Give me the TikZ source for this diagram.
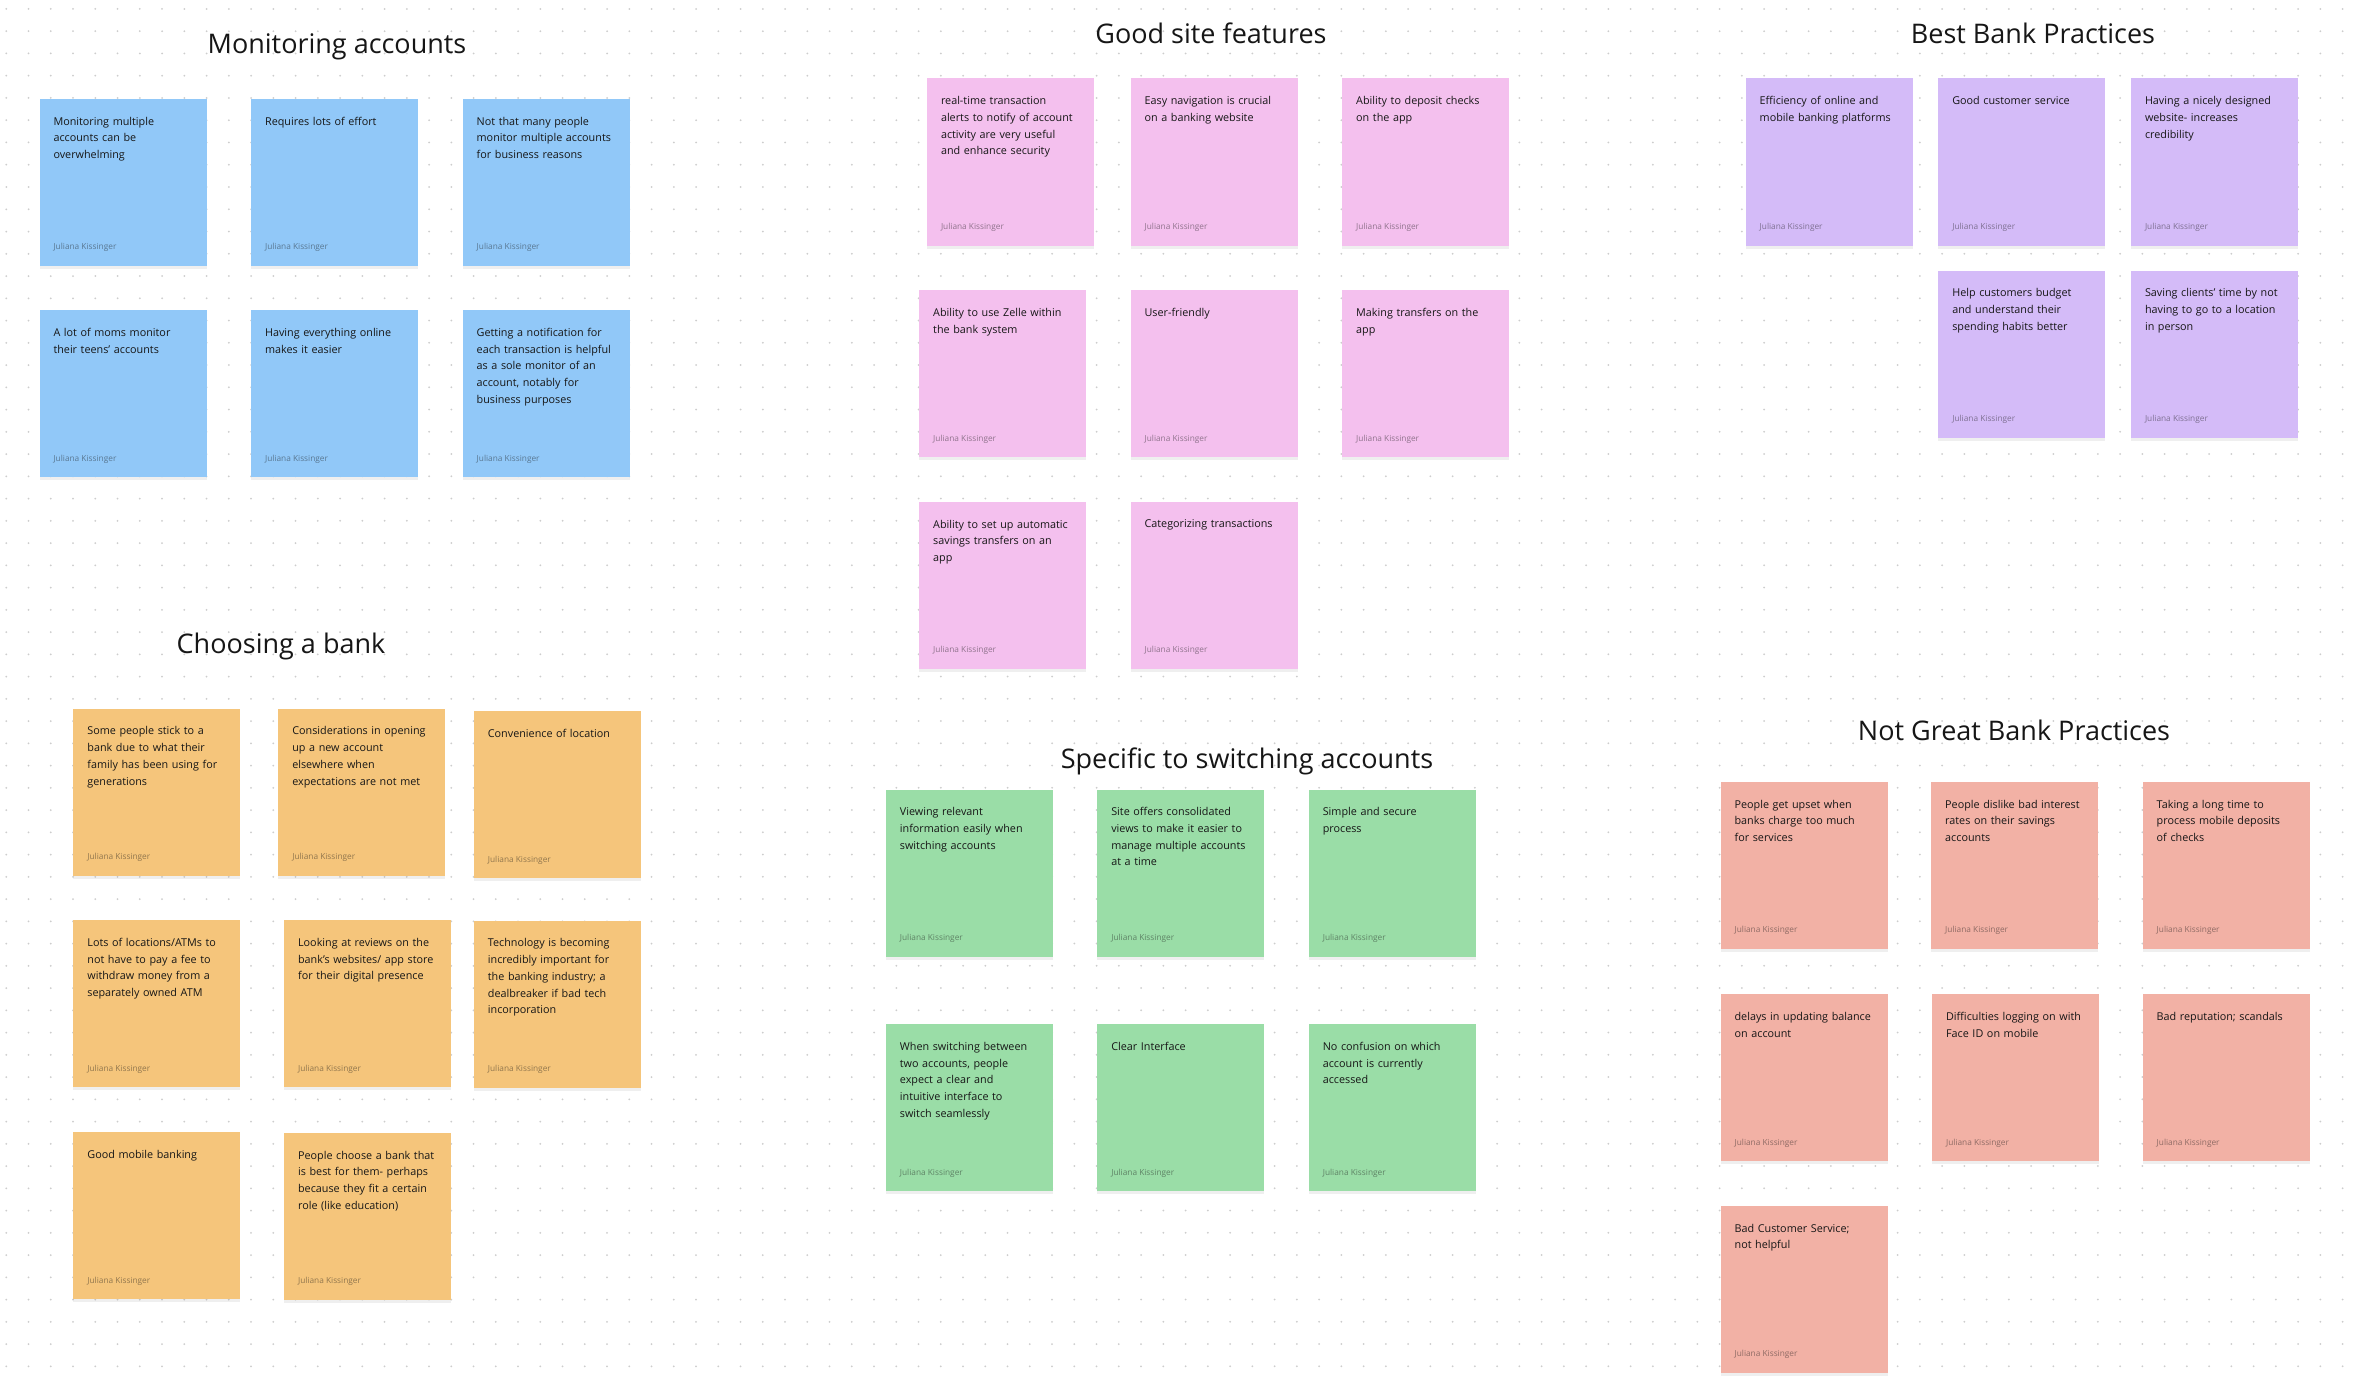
\documentclass[tikz,border=0pt]{standalone}
\usepackage{fontspec}
\setmainfont{Open Sans}
\usepackage{tikz}
\usetikzlibrary{shadows}
\definecolor{NoteBlue}{RGB}{145,200,248}
\definecolor{NotePink}{RGB}{244,192,238}
\definecolor{NotePurple}{RGB}{212,187,248}
\definecolor{NoteOrange}{RGB}{245,197,123}
\definecolor{NoteGreen}{RGB}{154,221,167}
\definecolor{NoteRed}{RGB}{242,177,165}
\definecolor{InkDark}{RGB}{22,22,22}
\definecolor{DotGray}{RGB}{205,205,205}
\tikzset{
  note/.style={anchor=north west,inner sep=0pt,minimum width=167pt,minimum height=167pt,
    drop shadow={shadow xshift=0pt,shadow yshift=-3pt,opacity=0.12}},
  notetext/.style={anchor=north west,inner sep=0pt,align=left,text width=150pt,text=InkDark,
    font=\fontsize{10.8}{16.7}\selectfont},
  author/.style={anchor=west,inner sep=0pt,text=InkDark,text opacity=0.45,
    font=\fontsize{8.3}{10}\selectfont},
  heading/.style={text=InkDark,font=\fontsize{27}{32}\selectfont},
  dots/.style={draw=DotGray,line width=2pt,line cap=round,dash pattern=on 0pt off 22.25pt},
}
\newcommand{\sticky}[5]{%
  \node[note,fill=#4] (#1) at (#2,#3) {};
  \node[notetext] (#1t) at ([xshift=14pt,yshift=-18pt]#1.north west) {#5};
  \node[author] (#1a) at ([xshift=14pt,yshift=18.5pt]#1.south west) {Juliana Kissinger};
}

\begin{document}
\begin{tikzpicture}[x=1pt,y=-1pt]
\useasboundingbox (0,0) rectangle (2354,1386);
\fill[white] (0,0) rectangle (2354,1386);
\foreach \r in {0,...,61}
  \draw[dots] (6.25,{9+22.25*\r}) -- (2354,{9+22.25*\r});

\node[heading] (hmon) at (337,46.5) {Monitoring accounts};
\sticky{m1}{39.3}{98.7}{NoteBlue}{Monitoring multiple\\accounts can be\\overwhelming}
\sticky{m2}{250.9}{98.7}{NoteBlue}{Requires lots of effort}
\sticky{m3}{462.5}{98.7}{NoteBlue}{Not that many people\\monitor multiple accounts\\for business reasons}
\sticky{m4}{39.3}{310}{NoteBlue}{A lot of moms monitor\\their teens’ accounts}
\sticky{m5}{250.9}{310}{NoteBlue}{Having everything online\\makes it easier}
\sticky{m6}{462.5}{310}{NoteBlue}{Getting a notification for\\each transaction is helpful\\as a sole monitor of an\\account, notably for\\business purposes}

\node[heading] (hgood) at (1211,33) {Good site features};
\sticky{g1}{926.8}{78.3}{NotePink}{real-time transaction\\alerts to notify of account\\activity are very useful\\and enhance security}
\sticky{g2}{1130.4}{78.3}{NotePink}{Easy navigation is crucial\\on a banking website}
\sticky{g3}{1342}{78.3}{NotePink}{Ability to deposit checks\\on the app}
\sticky{g4}{919}{290}{NotePink}{Ability to use Zelle within\\the bank system}
\sticky{g5}{1130.4}{290}{NotePink}{User-friendly}
\sticky{g6}{1342}{290}{NotePink}{Making transfers on the\\app}
\sticky{g7}{919}{501.7}{NotePink}{Ability to set up automatic\\savings transfers on an\\app}
\sticky{g8}{1130.4}{501.7}{NotePink}{Categorizing transactions}

\node[heading] (hbest) at (2033,33) {Best Bank Practices};
\sticky{b1}{1745.5}{78.3}{NotePurple}{Efficiency of online and\\mobile banking platforms}
\sticky{b2}{1938.1}{78.3}{NotePurple}{Good customer service}
\sticky{b3}{2130.8}{78.3}{NotePurple}{Having a nicely designed\\website- increases\\credibility}
\sticky{b4}{1938.1}{270.3}{NotePurple}{Help customers budget\\and understand their\\spending habits better}
\sticky{b5}{2130.8}{270.3}{NotePurple}{Saving clients’ time by not\\having to go to a location\\in person}

\node[heading] (hchoose) at (281,646) {Choosing a bank};
\sticky{c1}{73.2}{708.5}{NoteOrange}{Some people stick to a\\bank due to what their\\family has been using for\\generations}
\sticky{c2}{278.1}{708.5}{NoteOrange}{Considerations in opening\\up a new account\\elsewhere when\\expectations are not met}
\sticky{c3}{473.7}{711.2}{NoteOrange}{Convenience of location}
\sticky{c4}{73.2}{920}{NoteOrange}{Lots of locations/ATMs to\\not have to pay a fee to\\withdraw money from a\\separately owned ATM}
\sticky{c5}{283.9}{920}{NoteOrange}{Looking at reviews on the\\bank’s websites/ app store\\for their digital presence}
\sticky{c6}{473.7}{920.5}{NoteOrange}{Technology is becoming\\incredibly important for\\the banking industry; a\\dealbreaker if bad tech\\incorporation}
\sticky{c7}{73.2}{1132}{NoteOrange}{Good mobile banking}
\sticky{c8}{283.9}{1132.6}{NoteOrange}{People choose a bank that\\is best for them- perhaps\\because they fit a certain\\role (like education)}

\node[heading] (hswitch) at (1247,761) {Specific to switching accounts};
\sticky{s1}{885.7}{789.3}{NoteGreen}{Viewing relevant\\information easily when\\switching accounts}
\sticky{s2}{1097.1}{789.3}{NoteGreen}{Site offers consolidated\\views to make it easier to\\manage multiple accounts\\at a time}
\sticky{s3}{1308.6}{789.3}{NoteGreen}{Simple and secure\\process}
\sticky{s4}{885.7}{1024}{NoteGreen}{When switching between\\two accounts, people\\expect a clear and\\intuitive interface to\\switch seamlessly}
\sticky{s5}{1097.1}{1024}{NoteGreen}{Clear Interface}
\sticky{s6}{1308.6}{1024}{NoteGreen}{No confusion on which\\account is currently\\accessed}

\node[heading] (hnot) at (2014,730) {Not Great Bank Practices};
\sticky{n1}{1720.4}{781.8}{NoteRed}{People get upset when\\banks charge too much\\for services}
\sticky{n2}{1931}{781.8}{NoteRed}{People dislike bad interest\\rates on their savings\\accounts}
\sticky{n3}{2142.5}{781.8}{NoteRed}{Taking a long time to\\process mobile deposits\\of checks}
\sticky{n4}{1720.4}{994}{NoteRed}{delays in updating balance\\on account}
\sticky{n5}{1931.9}{994}{NoteRed}{Difficulties logging on with\\Face ID on mobile}
\sticky{n6}{2142.5}{994}{NoteRed}{Bad reputation; scandals}
\sticky{n7}{1720.4}{1205.7}{NoteRed}{Bad Customer Service;\\not helpful}
\end{tikzpicture}
\end{document}
